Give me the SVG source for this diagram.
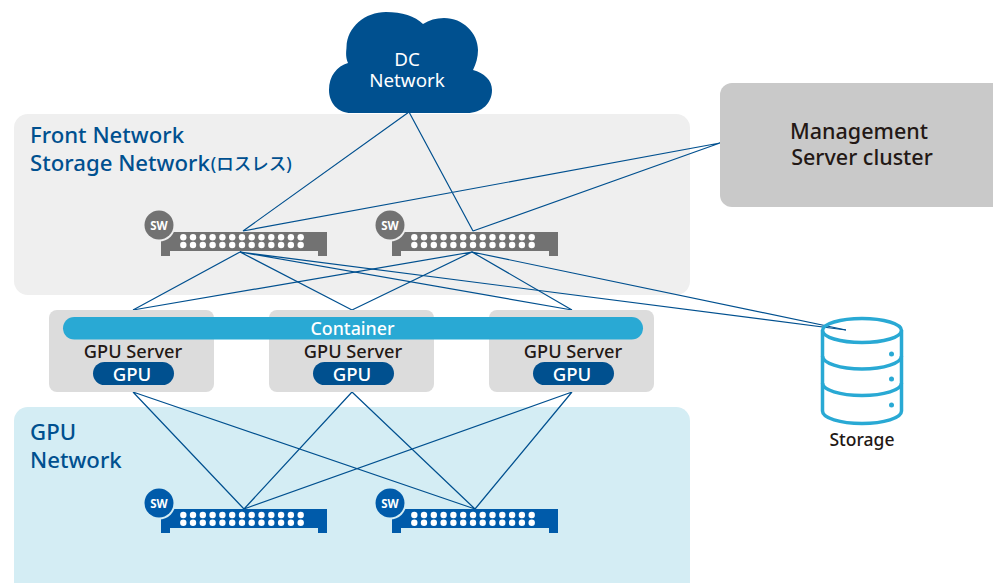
<svg xmlns="http://www.w3.org/2000/svg" width="993" height="583" viewBox="0 0 993 583">
<style>
text{font-family:"Noto Sans","Noto Sans CJK JP",sans-serif;text-anchor:middle}
.hd{font-size:22.2px;font-weight:500;fill:#00508f;text-anchor:start}
.srv{fill:#dcdcdc}
.st{font-size:18.2px;font-weight:500;fill:#231815}
.gpu{fill:#00508f}
.gt{font-size:18.6px;font-weight:500;fill:#fff}
.dot{fill:#fff}
.sw{font-size:11.5px;font-weight:700;fill:#fff}
.ln{stroke:#00508f;stroke-width:1.2;fill:none}
.cyl{fill:none;stroke:#29a9d4;stroke-width:3.5}
</style>
<defs>
<g id="dots">
<g id="dotrow"><circle class="dot" cx="183.3" cy="0" r="3.2"/><circle class="dot" cx="193" cy="0" r="3.2"/><circle class="dot" cx="202.8" cy="0" r="3.2"/><circle class="dot" cx="212.6" cy="0" r="3.2"/><circle class="dot" cx="222.4" cy="0" r="3.2"/><circle class="dot" cx="232.2" cy="0" r="3.2"/><circle class="dot" cx="242" cy="0" r="3.2"/><circle class="dot" cx="251.7" cy="0" r="3.2"/><circle class="dot" cx="261.5" cy="0" r="3.2"/><circle class="dot" cx="271.3" cy="0" r="3.2"/><circle class="dot" cx="281.1" cy="0" r="3.2"/><circle class="dot" cx="290.9" cy="0" r="3.2"/><circle class="dot" cx="300.7" cy="0" r="3.2"/></g>
<use href="#dotrow" y="7.7"/>
</g>
<path id="swbody" d="M161 232H327V256H318V251H170V256H161Z"/>
</defs>
<rect id="front-panel" x="14" y="114" width="676" height="181" rx="14" fill="#efefef"/>
<rect id="gpu-panel" x="14" y="407" width="676" height="190" rx="14" fill="#d4edf4"/>
<text class="hd" x="30" y="143">Front Network</text>
<text class="hd" x="30" y="171">Storage Network<tspan font-size="17.5" dx="1" dy="-1.5">(ロスレス)</tspan></text>
<text class="hd" x="30" y="440">GPU</text>
<text class="hd" x="30" y="468">Network</text>

<g id="connectors" class="ln">
<path d="M409 112L243 231M409 112L473 231M720 143L243 231M720 143L473 231"/>
<path d="M240 252L133 310M240 252L352 310M240 252L572 310M240 252L846 330"/>
<path d="M472 252L133 310M472 252L352 310M472 252L572 310M472 252L846 330"/>
<path d="M133 392L244 509M133 392L475 509M352 392L244 509M352 392L475 509M572 392L244 509M572 392L475 509"/>
</g>

<g id="cloud">
<path fill="#00508f" d="M351 113C338 113 329 103 329 90C329 76 337 66 348 63C345 56 346.500 50 346.500 47C347 27 365 12 386 12C402 12 415 16 423 24C429 20 436 18 444 18C463 18 478 33 478 50C478 57 476 64 473 70C484 73 492 80 492 90C492 103 482 113 467 113Z"/>
<text x="407" y="66" font-size="18.800" fill="#fff">DC</text>
<text x="407" y="87" font-size="18.800" fill="#fff">Network</text>
</g>
<g id="management">
<path d="M993 83H732A12 12 0 0 0 720 95V195A12 12 0 0 0 732 207H993Z" fill="#c9c9c9"/>
<text x="859" y="139" font-size="21.500" font-weight="500" fill="#231815">Management</text>
<text x="862" y="165" font-size="21.500" font-weight="500" fill="#231815">Server cluster</text>
</g>

<g id="sw-front-1" fill="#727272">
<use href="#swbody"/><use href="#dots" y="237.300"/>
<circle cx="159" cy="225" r="16.500" fill="#efefef"/><circle cx="159" cy="225" r="14.500"/>
<text class="sw" x="159" y="229.500">SW</text>
</g>
<g id="sw-front-2" fill="#727272">
<use href="#swbody" x="231"/><use href="#dots" x="231" y="237.300"/>
<circle cx="390" cy="225" r="16.500" fill="#efefef"/><circle cx="390" cy="225" r="14.500"/>
<text class="sw" x="390" y="229.500">SW</text>
</g>
<g id="sw-gpu-1" fill="#005baa">
<use href="#swbody" y="277"/><use href="#dots" y="515"/>
<circle cx="159" cy="503" r="16.500" fill="#d4edf4"/><circle cx="159" cy="503" r="14.500"/>
<text class="sw" x="159" y="507.500">SW</text>
</g>
<g id="sw-gpu-2" fill="#005baa">
<use href="#swbody" x="231" y="277"/><use href="#dots" x="231" y="515"/>
<circle cx="390" cy="503" r="16.500" fill="#d4edf4"/><circle cx="390" cy="503" r="14.500"/>
<text class="sw" x="390" y="507.500">SW</text>
</g>

<g id="server-1">
<rect class="srv" x="49" y="310" width="165" height="82" rx="8"/>
<text class="st" x="133" y="358">GPU Server</text>
<rect class="gpu" x="93" y="362" width="81" height="23" rx="11.500"/>
<text class="gt" x="132" y="381">GPU</text>
</g>
<g id="server-2">
<rect class="srv" x="269" y="310" width="165" height="82" rx="8"/>
<text class="st" x="353" y="358">GPU Server</text>
<rect class="gpu" x="313" y="362" width="81" height="23" rx="11.500"/>
<text class="gt" x="352" y="381">GPU</text>
</g>
<g id="server-3">
<rect class="srv" x="489" y="310" width="165" height="82" rx="8"/>
<text class="st" x="573" y="358">GPU Server</text>
<rect class="gpu" x="533" y="362" width="81" height="23" rx="11.500"/>
<text class="gt" x="572" y="381">GPU</text>
</g>
<g id="container">
<rect x="63" y="317" width="580" height="22.500" rx="11.250" fill="#29a9d4"/>
<text x="352.500" y="334.500" font-size="17.800" font-weight="500" fill="#fff">Container</text>
</g>
<g id="storage">
<ellipse class="cyl" cx="862" cy="330.500" rx="39.500" ry="12"/>
<path class="cyl" d="M822.500 330.500V411C822.500 418 840 423.500 862 423.500C884 423.500 901.500 418 901.500 411V330.500"/>
<path class="cyl" d="M822.500 356C822.500 363 840 369 862 369C884 369 901.500 363 901.500 356"/>
<path class="cyl" d="M822.500 383C822.500 390 840 395.500 862 395.500C884 395.500 901.500 390 901.500 383"/>
<circle cx="891.500" cy="354" r="2.500" fill="#29a9d4"/><circle cx="891.500" cy="379" r="2.500" fill="#29a9d4"/><circle cx="891.500" cy="405" r="2.500" fill="#29a9d4"/>
<text x="862" y="446" font-size="17.500" font-weight="500" fill="#231815">Storage</text>
</g>
</svg>
